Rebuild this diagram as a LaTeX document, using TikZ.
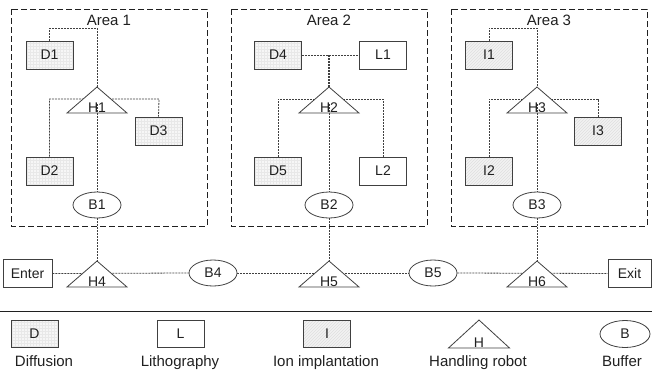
\documentclass[tikz,border=0pt]{standalone}
\usepackage{fontspec}
\setmainfont{Liberation Sans}
\usetikzlibrary{shapes.geometric,patterns,calc}
\definecolor{ink}{HTML}{202020}
\definecolor{edge}{HTML}{404040}
\tikzset{
  every node/.style={text=ink,font=\fontsize{14}{16}\selectfont},
  areabox/.style={draw=ink,line width=0.9pt,dash pattern=on 6pt off 3pt},
  conn/.style={draw=edge,line width=0.8pt,dash pattern=on 2pt off 1pt},
  machine/.style={draw=edge,line width=0.8pt,minimum width=47pt,minimum height=28pt,inner sep=0pt},
  diffbox/.style={machine,preaction={fill=gray!7},pattern=grid,pattern color=gray!18},
  lithbox/.style={machine,fill=white},
  ionbox/.style={machine,preaction={fill=gray!10},pattern=north east lines,pattern color=gray!25},
  buffer/.style={ellipse,draw=edge,line width=0.8pt,fill=white,minimum width=48pt,minimum height=26pt,inner sep=0pt},
  robot/.style={draw=edge,line width=0.8pt,fill=white,line join=miter},
  lbl/.style={font=\fontsize{15}{17}\selectfont},
}
\newcommand\robotshape[4]{%
  \coordinate (#1) at (#2,#3);
  \filldraw[robot] (#1) -- ++(-30,26) -- ++(60,0) -- cycle;
  \node[anchor=base,inner sep=0pt] (#1t) at ($(#1)+(0,25)$) {#4};
}
\begin{document}
\begin{tikzpicture}[x=1pt,y=-1pt]
\useasboundingbox (0,0) rectangle (652,373);
% area boxes
\draw[areabox] (11,9) rectangle (207,226);
\draw[areabox] (231,9) rectangle (427,226);
\draw[areabox] (451,9) rectangle (647,226);
\node[lbl] (A1) at (109,20) {Area 1};
\node[lbl] (A2) at (329,20) {Area 2};
\node[lbl] (A3) at (549,20) {Area 3};
% coordinates for robots
\coordinate (H1) at (97,87);
\coordinate (H2) at (329,87);
\coordinate (H3) at (537,87);
\coordinate (H4) at (97,261);
\coordinate (H5) at (329,261);
\coordinate (H6) at (537,261);
% machines
\node[diffbox] (D1) at (49.5,55) {D1};
\node[diffbox] (D3) at (158.5,131) {D3};
\node[diffbox] (D2) at (49.5,171) {D2};
\node[diffbox] (D4) at (278,55) {D4};
\node[lithbox] (L1) at (383,55) {L1};
\node[diffbox] (D5) at (278,171) {D5};
\node[lithbox] (L2) at (383,171) {L2};
\node[ionbox] (I1) at (489,55) {I1};
\node[ionbox] (I3) at (598,131) {I3};
\node[ionbox] (I2) at (489,171) {I2};
% buffers
\node[buffer] (B1) at (97,205) {B1};
\node[buffer] (B2) at (329,205) {B2};
\node[buffer] (B3) at (537,205) {B3};
\node[buffer] (B4) at (213,273) {B4};
\node[buffer] (B5) at (433,273) {B5};
\node[lithbox,minimum width=49pt] (En) at (27.5,273.5) {Enter};
\node[lithbox,minimum width=43pt] (Ex) at (629.5,273.5) {Exit};
% connectors behind robots
\draw[conn] (D1.north) |- (97,28) -- (H1);
\draw[conn] (I1.north) |- (537,28) -- (H3);
\draw[conn] (D4.east) -- (L1.west);
\draw[conn,line width=1.3pt] (329,55) -- (H2);
\draw[conn] (D2.north) |- (159,99) -- (D3.north);
\draw[conn] (D5.north) |- (383,99) -- (L2.north);
\draw[conn] (I2.north) |- (598,99) -- (I3.north);
\draw[conn] (En.east) -- (B4.west);
\draw[conn] (B4.east) -- (B5.west);
\draw[conn] (B5.east) -- (Ex.west);
\draw[conn] (B1.south) -- (H4);
\draw[conn] (B2.south) -- (H5);
\draw[conn] (B3.south) -- (H6);
% robots
\robotshape{H1}{97}{87}{H1}
\robotshape{H2}{329}{87}{H2}
\robotshape{H3}{537}{87}{H3}
\robotshape{H4}{97}{261}{H4}
\robotshape{H5}{329}{261}{H5}
\robotshape{H6}{537}{261}{H6}
\draw[conn] (97,104) -- (B1.north);
\draw[conn] (329,104) -- (B2.north);
\draw[conn] (537,104) -- (B3.north);
% legend
\coordinate (LL) at (0,311);
\coordinate (LR) at (652,311);
\draw[draw=ink,line width=0.9pt] (LL) -- (LR);
\node[diffbox,minimum height=27pt] (KD) at (34.5,333.5) {D};
\node[lithbox,minimum height=27pt] (KL) at (180.5,333.5) {L};
\node[ionbox,minimum height=27pt] (KI) at (327,333.5) {I};
\coordinate (KH) at (479,320);
\filldraw[robot] (KH) -- ++(-30.5,28) -- ++(61,0) -- cycle;
\node[anchor=base,inner sep=0pt] (KHt) at (479,347) {H};
\node[buffer,minimum width=50pt,minimum height=27pt] (KB) at (625,334) {B};
\node[lbl,anchor=base] (tD) at (44,366) {Diffusion};
\node[lbl,anchor=base] (tL) at (180,366) {Lithography};
\node[lbl,anchor=base] (tI) at (326,366) {Ion implantation};
\node[lbl,anchor=base] (tH) at (478,366) {Handling robot};
\node[lbl,anchor=base] (tB) at (622,366) {Buffer};
\end{tikzpicture}
\end{document}
